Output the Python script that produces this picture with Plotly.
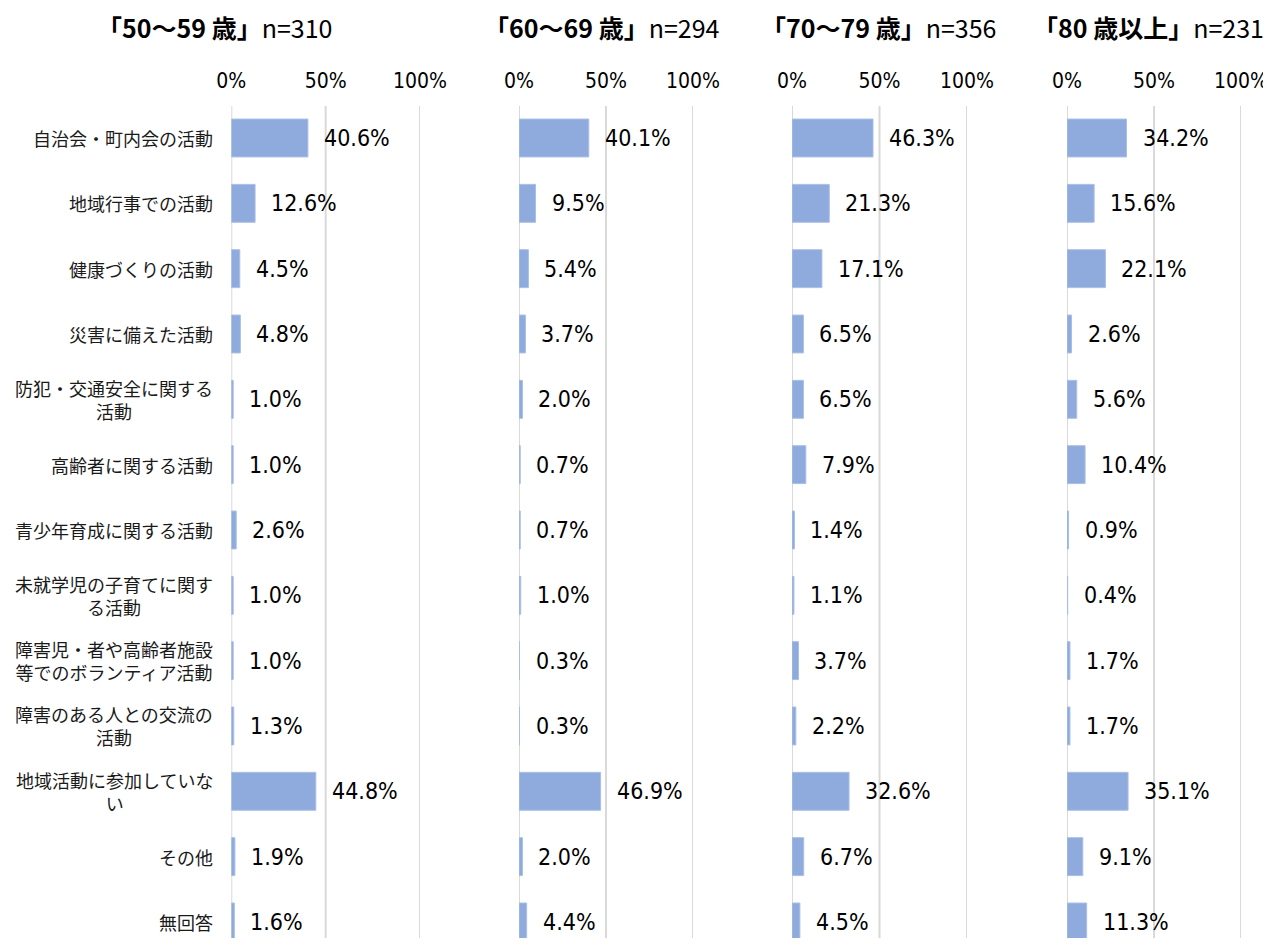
import plotly.graph_objects as go

categories = [
    "自治会・町内会の活動",
    "地域行事での活動",
    "健康づくりの活動",
    "災害に備えた活動",
    "防犯・交通安全に関する<br>活動",
    "高齢者に関する活動",
    "青少年育成に関する活動",
    "未就学児の子育てに関す<br>る活動",
    "障害児・者や高齢者施設<br>等でのボランティア活動",
    "障害のある人との交流の<br>活動",
    "地域活動に参加していな<br>い",
    "その他",
    "無回答",
]

age_50s = [40.6, 12.6, 4.5, 4.8, 1.0, 1.0, 2.6, 1.0, 1.0, 1.3, 44.8, 1.9, 1.6]
age_60s = [40.1, 9.5, 5.4, 3.7, 2.0, 0.7, 0.7, 1.0, 0.3, 0.3, 46.9, 2.0, 4.4]
age_70s = [46.3, 21.3, 17.1, 6.5, 6.5, 7.9, 1.4, 1.1, 3.7, 2.2, 32.6, 6.7, 4.5]
age_80p = [34.2, 15.6, 22.1, 2.6, 5.6, 10.4, 0.9, 0.4, 1.7, 1.7, 35.1, 9.1, 11.3]

panel_titles = ["「50～59 歳」", "「60～69 歳」", "「70～79 歳」", "「80 歳以上」"]
panel_n = ["n=310", "n=294", "n=356", "n=231"]

tick_vals = [0, 50, 100]
tick_text = ["0%", "50%", "100%"]

# page body has an 8px margin: figure is laid out in screen pixels minus OFF
OFF = 8
W, H = 1271 - OFF, 946 - 2 * OFF
series = [age_50s, age_60s, age_70s, age_80p]
# screen-pixel extents of each panel's 0%..100%
px_domains = [(231.3, 420.0), (519.0, 693.0), (792.0, 967.0), (1067.0, 1241.0)]
title_centers = [214, 602, 878, 1148]
ROW0, STEP, PLOT_TOP = 138.0, 65.33, 106.0


def px_x(p):
    return (p - OFF) / W


def px_y(p):
    return 1 - (p - OFF) / H


y_top_val = (PLOT_TOP - ROW0) / STEP
y_bot_val = (H + OFF - ROW0) / STEP

NARROW = "DejaVu Sans Condensed, Noto Sans, sans-serif"
CJK = "Noto Sans CJK JP, sans-serif"
BAR = "#8FAADC"
GRID = "#D9D9D9"

fig = go.Figure()
annotations = []
shapes = []
ytop = px_y(PLOT_TOP)
yidx = list(range(len(categories)))

for k, vals in enumerate(series):
    xa = "x" if k == 0 else f"x{k+1}"
    ya = "y" if k == 0 else f"y{k+1}"
    fig.add_trace(go.Bar(
        x=vals, y=yidx, orientation="h", width=0.58,
        marker=dict(color=BAR, line=dict(width=1, color="#A9BFE6")),
        xaxis=xa, yaxis=ya, hoverinfo="skip", showlegend=False,
    ))
    d0, d1 = px_domains[k]
    xkey = "xaxis" if k == 0 else f"xaxis{k+1}"
    ykey = "yaxis" if k == 0 else f"yaxis{k+1}"
    fig.update_layout(**{
        xkey: dict(
            domain=[px_x(d0), px_x(d1)], range=[0, 100], side="top",
            anchor=ya, tickvals=tick_vals, ticktext=tick_text,
            showgrid=False, zeroline=False, automargin=False,
            showline=False, ticks="outside", ticklen=9,
            tickcolor="rgba(0,0,0,0)",
            tickfont=dict(family=NARROW, size=21, color="#000000"),
            fixedrange=True,
        ),
        ykey: dict(
            domain=[0, ytop], range=[y_bot_val, y_top_val], anchor=xa,
            showticklabels=False, showgrid=False, zeroline=False,
            showline=False, ticks="", fixedrange=True, automargin=False,
        ),
    })
    for tv in tick_vals:
        shapes.append(dict(
            type="line", xref=xa, yref=f"{ya} domain", x0=tv, x1=tv,
            y0=0, y1=1, layer="below", line=dict(color=GRID, width=2),
        ))
    for i, v in enumerate(vals):
        annotations.append(dict(
            x=v, y=i, xref=xa, yref=ya, text=f"{v:.1f}%",
            showarrow=False, xanchor="left", yanchor="middle", xshift=14,
            font=dict(family=NARROW, size=23, color="#000000"),
        ))
    annotations.append(dict(
        x=px_x(title_centers[k]), y=px_y(27), xref="paper", yref="paper",
        text=f"<b>{panel_titles[k]}</b>{panel_n[k]}", showarrow=False,
        xanchor="center", yanchor="middle",
        font=dict(family=CJK, size=25, color="#000000"),
    ))

for i, c in enumerate(categories):
    annotations.append(dict(
        x=px_x(215), y=i, xref="paper", yref="y", text=c, showarrow=False,
        xanchor="right", yanchor="middle", align="center",
        font=dict(family=CJK, size=18, color="#1A1A1A"),
    ))

fig.update_layout(
    width=W, height=H, margin=dict(l=0, r=0, t=0, b=0, pad=0),
    paper_bgcolor="white", plot_bgcolor="white",
    annotations=annotations, shapes=shapes,
)

fig.write_html("out.html")
